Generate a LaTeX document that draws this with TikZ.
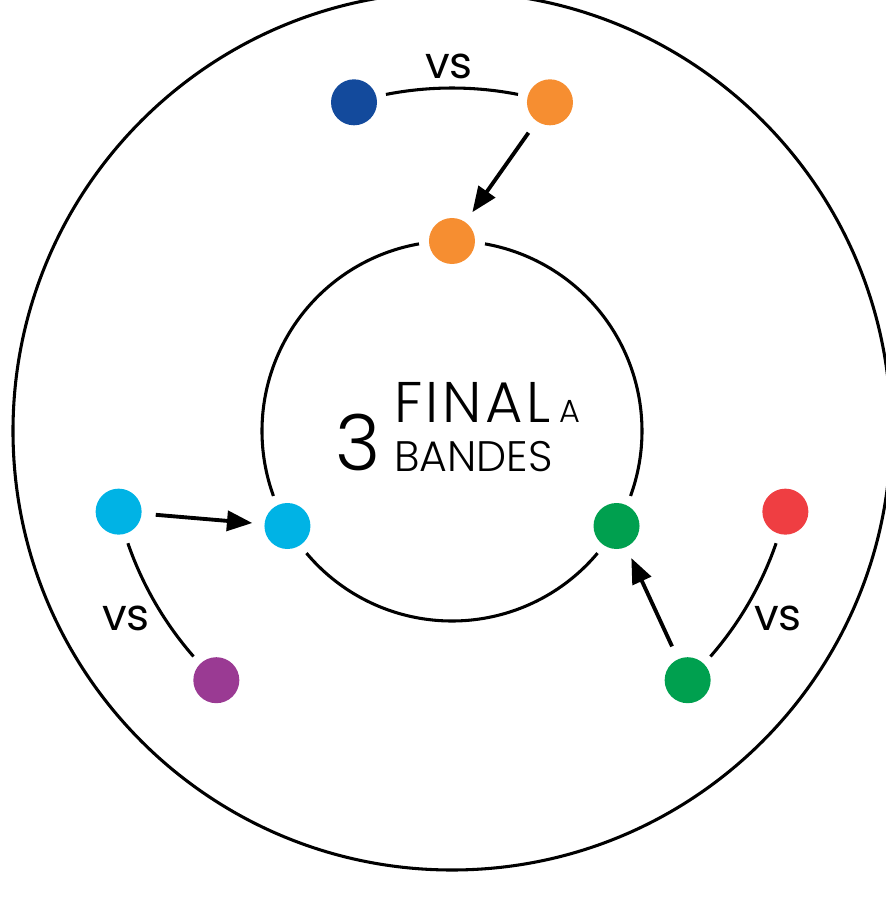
\documentclass[tikz,border=0pt]{standalone}
\usepackage{fontspec}
\IfFontExistsTF{Poppins Light}{\setmainfont{Poppins Light}}{\setmainfont{Poppins}}
\newfontfamily\vsfont{Poppins}
\usetikzlibrary{arrows.meta}
\definecolor{cblue}{HTML}{134A9C}
\definecolor{corange}{HTML}{F68E31}
\definecolor{ccyan}{HTML}{00B3E5}
\definecolor{cpurple}{HTML}{9A3A93}
\definecolor{cgreen}{HTML}{00A04F}
\definecolor{cred}{HTML}{EF3E42}
\tikzset{
  ring/.style={line width=2.3pt},
  vsarc/.style={line width=2.3pt},
  dot/.style={circle, fill=#1, draw=none, minimum size=34.5pt, inner sep=0pt},
  arr/.style={line width=2.9pt, -{Triangle[length=19pt,width=15pt]}, shorten <=10.5pt, shorten >=9pt},
  vslabel/.style={inner sep=0pt, font=\vsfont\fontsize{33}{33}\selectfont},
  txt/.style={inner sep=0pt, anchor=base west}
}
\begin{document}
\begin{tikzpicture}[x=0.75pt,y=0.75pt]
\useasboundingbox (-452,-491) rectangle (434,431);
\clip (-452,-491) rectangle (434,431);
\coordinate (C) at (0,0);
% outer circle
\draw[ring] (C) circle[radius=439];
% inner circle with gaps
\draw[ring] (100:190) arc[start angle=100, end angle=200, radius=190];
\draw[ring] (220:190) arc[start angle=220, end angle=320, radius=190];
\draw[ring] (340:190) arc[start angle=340, end angle=440, radius=190];
% vs arcs
\draw[vsarc] (78.9:343) arc[start angle=78.9, end angle=101.1, radius=343];
\draw[vsarc] (199.1:343) arc[start angle=199.1, end angle=221.1, radius=343];
\draw[vsarc] (318.9:343) arc[start angle=318.9, end angle=340.9, radius=343];
% dots
\node[dot=cblue] (tb) at (106.6:343) {};
\node[dot=corange] (to) at (73.4:343) {};
\node[dot=corange] (io) at (90:190) {};
\node[dot=ccyan] (lc) at (193.6:343) {};
\node[dot=cpurple] (lp) at (226.6:343) {};
\node[dot=ccyan] (ic) at (210:190) {};
\node[dot=cred] (rr) at (346.4:343) {};
\node[dot=cgreen] (rg) at (313.4:343) {};
\node[dot=cgreen] (ig) at (330:190) {};
% arrows
\draw[arr] (to) -- (io);
\draw[arr] (lc) -- (ic);
\draw[arr] (rg) -- (ig);
% vs labels
\node[vslabel] (vs1) at (-3,365) {vs};
\node[vslabel] (vs2) at (-326,-187) {vs};
\node[vslabel] (vs3) at (326,-187) {vs};
% title
\node[txt, font=\fontsize{58}{58}\selectfont] (three) at (-117,-39) {3};
\node[txt, font=\fontsize{43}{43}\selectfont\addfontfeature{LetterSpace=6}] (final) at (-58,9) {FINAL};
\node[txt, font=\fontsize{24}{24}\selectfont] (a) at (107,9) {A};
\node[txt, font=\fontsize{32}{32}\selectfont] (bandes) at (-58,-40) {BANDES};
\end{tikzpicture}
\end{document}
